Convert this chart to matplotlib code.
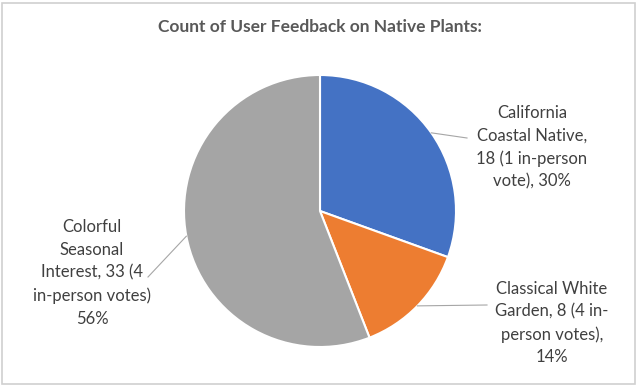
import numpy as np
import matplotlib.pyplot as plt
from matplotlib.patches import Rectangle

title = "Count of User Feedback on Native Plants:"
categories = ["California\nCoastal Native,\n18 (1 in-person\nvote), 30%",
              "Classical White\nGarden, 8 (4 in-\nperson votes),\n14%",
              "Colorful\nSeasonal\nInterest, 33 (4\nin-person votes)\n56%"]
counts = [18, 8, 33]
colors = ["#4472C4", "#ED7D31", "#A5A5A5"]

# label text centres and leader-line ends (pixel space, y up)
label_pos = [(532, 241), (552, 65), (92, 115)]
line_end = [(467, 250), (487, 83), (148, 111)]

plt.rcParams['font.family'] = ['Lato', 'DejaVu Sans']

fig = plt.figure(figsize=(6.4, 3.88), dpi=100)
ax = fig.add_axes([0, 0, 1, 1])

# chart area border
ax.add_patch(Rectangle((2, 4), 633, 381, fill=False, ec="#D0D0D0", lw=1.2))

cx, cy, r = 320, 177, 136
wedges, _ = ax.pie(counts, colors=colors, startangle=90, counterclock=False,
                   center=(cx, cy), radius=r, frame=True,
                   wedgeprops=dict(edgecolor="white", linewidth=1.5))
ax.set_xlim(0, 640)
ax.set_ylim(0, 388)
ax.set_aspect("equal")
ax.axis("off")

for w, lab, (tx, ty), (lx, ly) in zip(wedges, categories, label_pos, line_end):
    mid = np.deg2rad((w.theta1 + w.theta2) / 2)
    ex, ey = cx + r * np.cos(mid), cy + r * np.sin(mid)
    ax.plot([ex, lx], [ey, ly], color="#A6A6A6", lw=0.8)
    ax.text(tx, ty, lab, ha="center", va="center", fontsize=12,
            color="#404040", linespacing=1.5)

ax.text(320, 361, title, ha="center", va="center", fontsize=12.5,
        fontweight="bold", color="#595959")

fig.savefig("out.png", dpi=100)
